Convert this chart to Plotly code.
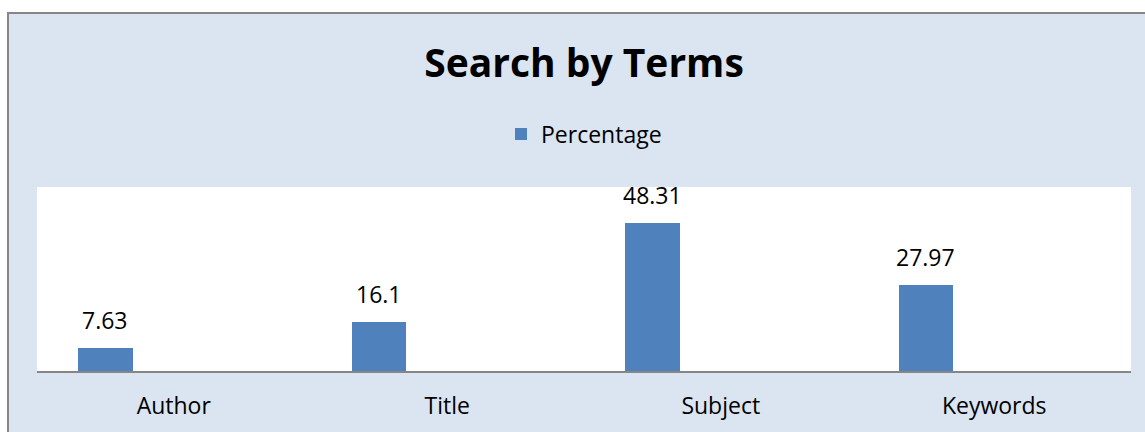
import plotly.graph_objects as go

categories = ["Author", "Title", "Subject", "Keywords"]
percentage = [7.63, 16.1, 48.31, 27.97]
value_labels = ["7.63", "16.1", "48.31", "27.97"]

W, H = 1145, 432
L, R, T, B = 37, 1131, 187, 371
BG = "#dbe5f1"
BAR = "#4f81bd"
FONT = "Open Sans"
FS = 23

def px_x(s):
    return (s - L) / (R - L)

def px_y(s):
    return (B - s) / (B - T)

idx = list(range(len(categories)))

fig = go.Figure()
fig.add_trace(go.Bar(
    x=idx, y=percentage, name="Percentage",
    marker=dict(color=BAR, line=dict(width=0)),
    width=0.2, offset=-0.35, showlegend=True,
))

for i, v, t in zip(idx, percentage, value_labels):
    fig.add_annotation(x=i - 0.25, y=v, text=t, showarrow=False,
                       yanchor="bottom", yshift=10,
                       font=dict(family=FONT, size=FS, color="#000"))

shapes = [
    dict(type="rect", xref="paper", yref="paper", x0=px_x(-20), x1=px_x(1200),
         y0=px_y(12), y1=px_y(-20), fillcolor="white", line=dict(width=0), layer="above"),
    dict(type="rect", xref="paper", yref="paper", x0=px_x(-20), x1=px_x(7),
         y0=px_y(500), y1=px_y(-20), fillcolor="white", line=dict(width=0), layer="above"),
    dict(type="line", xref="paper", yref="paper", x0=px_x(7), x1=px_x(1200),
         y0=px_y(13), y1=px_y(13), line=dict(color="#868686", width=2), layer="above"),
    dict(type="line", xref="paper", yref="paper", x0=px_x(8), x1=px_x(8),
         y0=px_y(12), y1=px_y(500), line=dict(color="#868686", width=2), layer="above"),
]

fig.update_layout(
    width=W, height=H,
    margin=dict(l=L, r=W - R, t=T, b=H - B, pad=0, autoexpand=False),
    paper_bgcolor=BG, plot_bgcolor="white",
    font=dict(family=FONT, size=FS, color="#000"),
    title=dict(text="<b>Search by Terms</b>", xref="container",
               x=584 / W, xanchor="center",
               y=1 - 63 / H, yanchor="middle",
               font=dict(family=FONT, size=39, color="#000")),
    legend=dict(orientation="h", x=px_x(584), xanchor="center",
                y=px_y(134), yanchor="middle", bgcolor="rgba(0,0,0,0)",
                font=dict(family=FONT, size=FS), itemwidth=30),
    xaxis=dict(range=[-0.5, 3.5], tickvals=idx, ticktext=categories,
               showgrid=False, zeroline=False, showline=True,
               linecolor="#868686", linewidth=2, ticks="",
               ticklabelstandoff=13, automargin=False, fixedrange=True),
    yaxis=dict(range=[0, 60], visible=False, showgrid=False,
               automargin=False, fixedrange=True),
    shapes=shapes,
    bargap=0,
)

fig.write_html("out.html", config={"displayModeBar": False},
               post_script="document.body.style.margin='0';document.body.style.overflow='hidden';")
